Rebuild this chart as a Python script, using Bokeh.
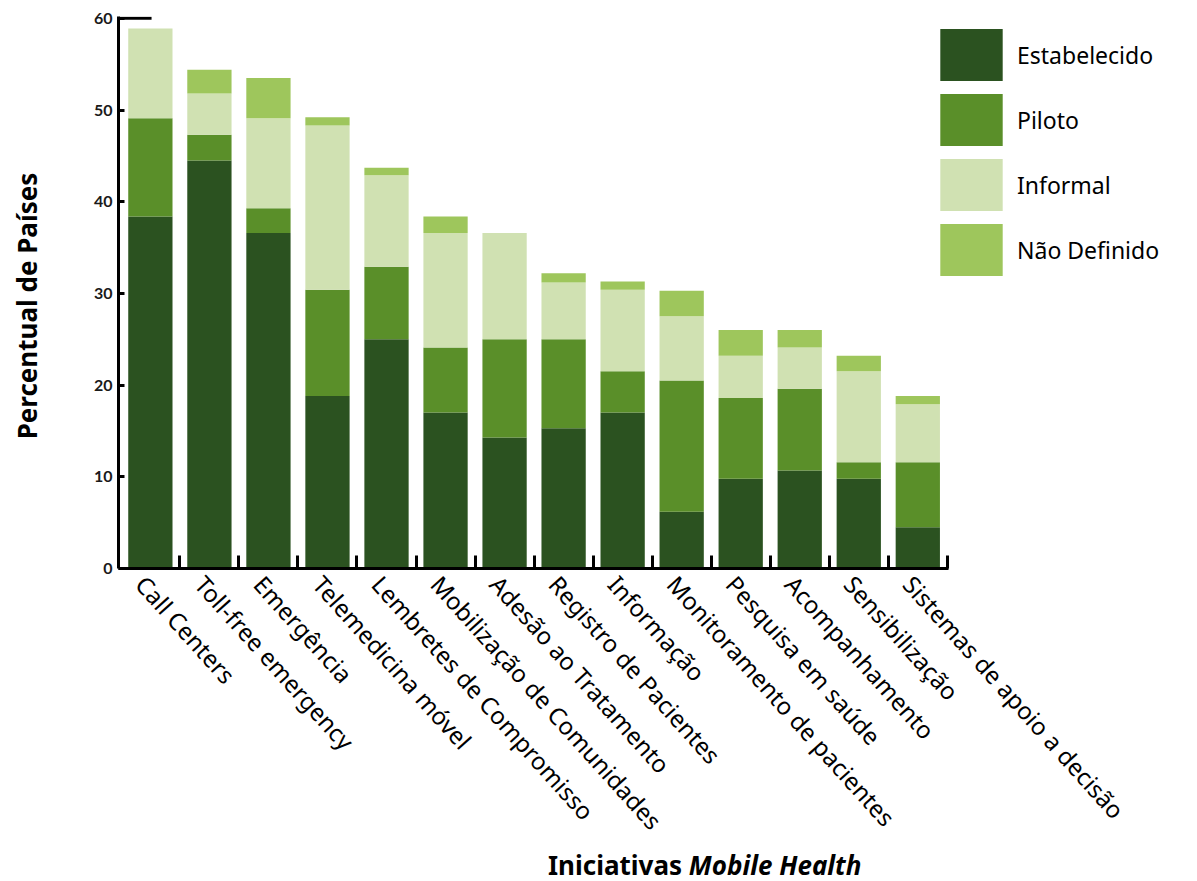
import math
from bokeh.plotting import figure
from bokeh.layouts import column
from bokeh.models import Range1d, FixedTicker, Legend, LegendItem, ColumnDataSource, Div
from bokeh.embed import file_html
from bokeh.resources import INLINE

categories = ["Call Centers", "Toll-free emergency", "Emergência", "Telemedicina móvel",
              "Lembretes de Compromisso", "Mobilização de Comunidades", "Adesão ao Tratamento",
              "Registro de Pacientes", "Informação", "Monitoramento de pacientes",
              "Pesquisa em saúde", "Acompanhamento", "Sensibilização",
              "Sistemas de apoio a decisão"]
estabelecido = [38.4, 44.5, 36.6, 18.8, 25.0, 17.0, 14.3, 15.3, 17.0, 6.2, 9.8, 10.7, 9.8, 4.5]
piloto = [10.7, 2.8, 2.7, 11.6, 7.9, 7.1, 10.7, 9.7, 4.5, 14.3, 8.8, 8.9, 1.8, 7.1]
informal = [9.8, 4.5, 9.8, 17.9, 10.0, 12.5, 11.6, 6.2, 8.9, 7.0, 4.6, 4.5, 9.9, 6.3]
nao_definido = [0.0, 2.6, 4.4, 0.9, 0.8, 1.8, 0.0, 1.0, 0.9, 2.8, 2.8, 1.9, 1.7, 0.9]
series_names = ["Estabelecido", "Piloto", "Informal", "Não Definido"]
colors = ["#2B5220", "#5A8F29", "#D0E1B2", "#9EC65C"]
y_ticks = [0, 10, 20, 30, 40, 50, 60]

xs = list(range(1, len(categories) + 1))
source = ColumnDataSource(dict(x=xs, Estabelecido=estabelecido, Piloto=piloto,
                               Informal=informal, **{"Não Definido": nao_definido}))

p = figure(frame_width=830, frame_height=552, output_backend="svg", toolbar_location=None,
           x_range=Range1d(0.46, 14.52), y_range=Range1d(0, 60.2),
           min_border_left=118, min_border_right=0, min_border_top=16,
           min_border_bottom=270)
p.outline_line_color = None
p.xgrid.grid_line_color = None
p.ygrid.grid_line_color = None
p.background_fill_color = "white"

renderers = p.vbar_stack(series_names, x="x", width=0.75, source=source,
                         color=colors, line_color=None)

# top cap on y axis
p.segment(x0=[0.46], y0=[y_ticks[-1]], x1=[1.02], y1=[y_ticks[-1]],
          line_color="black", line_width=3)

# y axis
ya = p.yaxis[0]
ya.ticker = FixedTicker(ticks=y_ticks)
ya.axis_line_width = 3
ya.axis_line_color = "black"
ya.major_tick_in = 6
ya.major_tick_out = 0
ya.major_tick_line_width = 3
ya.minor_tick_line_color = None
ya.major_label_text_font = "Lato"
ya.major_label_text_font_style = "bold"
ya.major_label_text_font_size = "16px"
ya.major_label_text_color = "#1a1a1a"
ya.major_label_standoff = 6
ya.axis_label = "Percentual de Países\u00a0\u00a0\u00a0\u00a0"
ya.axis_label_text_font = "Noto Sans"
ya.axis_label_text_font_style = "bold"
ya.axis_label_text_font_size = "26px"
ya.axis_label_text_color = "black"
ya.axis_label_standoff = 46

# x axis
label_pos = [x - 0.16 for x in xs]
xa = p.xaxis[0]
xa.ticker = FixedTicker(ticks=label_pos, minor_ticks=[x + 0.5 for x in xs])
xa.major_label_overrides = {lp: c for lp, c in zip(label_pos, categories)}
xa.major_label_orientation = -0.838
xa.axis_line_width = 3
xa.axis_line_color = "black"
xa.major_tick_line_color = None
xa.minor_tick_in = 13
xa.minor_tick_out = 0
xa.minor_tick_line_width = 3
xa.minor_tick_line_color = "black"
xa.major_label_text_font = "Noto Sans"
xa.major_label_text_font_size = "24px"
xa.major_label_text_color = "black"
xa.major_label_standoff = 5

legend = Legend(items=[LegendItem(label=n, renderers=[r]) for n, r in zip(series_names, renderers)],
                location=(-16, 286), orientation="vertical",
                glyph_width=78, glyph_height=65, spacing=0, label_standoff=7,
                label_text_font="Noto Sans", label_text_font_size="23px",
                label_text_color="black", margin=0, padding=0,
                border_line_color=None, background_fill_alpha=0)
p.add_layout(legend, "right")

title = Div(text='<div style="margin-left:548px; font-family:\'Noto Sans\'; font-weight:bold; '
                 'font-size:26px; line-height:30px; white-space:nowrap; color:black">'
                 'Iniciativas <i>Mobile Health</i></div>',
            width=1197, height=30, margin=(0, 0, 0, 0))

layout = column(p, title, spacing=0)
open("out.html", "w").write(file_html(layout, INLINE))
